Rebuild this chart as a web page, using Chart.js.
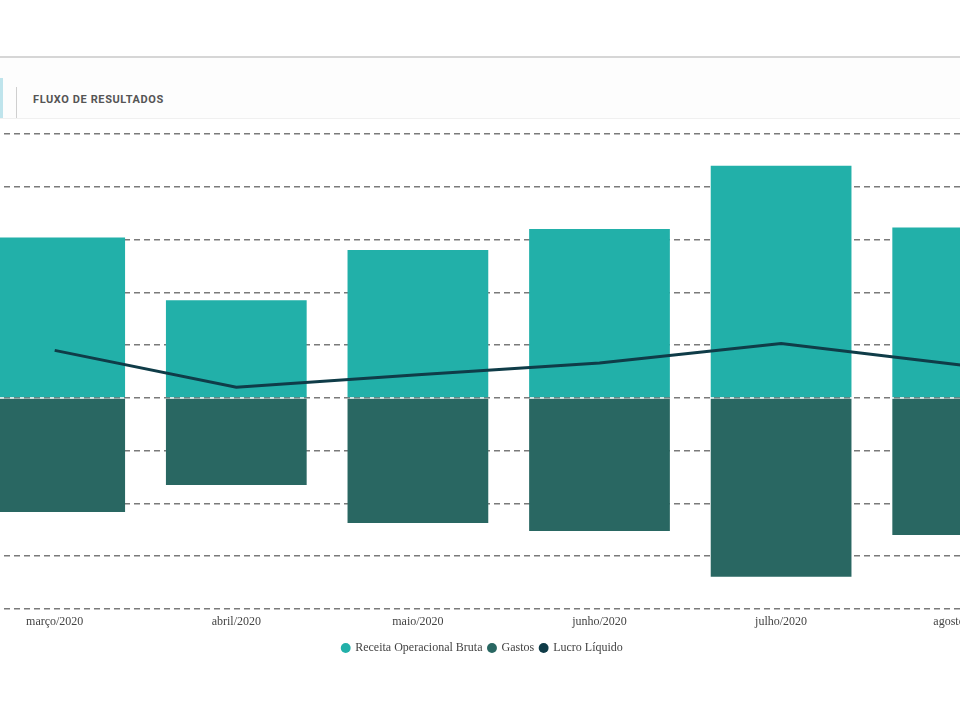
<!DOCTYPE html>
<html>
<head>
<meta charset="utf-8">
<script src="https://cdn.jsdelivr.net/npm/chart.js@4/dist/chart.umd.min.js"></script>
<style>
  html, body { margin: 0; padding: 0; background: #fff; }
  #page { position: relative; width: 960px; height: 720px; overflow: hidden; background: #fff; }
  #topline { position: absolute; left: 0; top: 56px; width: 960px; height: 2px; background: #d6d6d6; }
  #header { position: absolute; left: 0; top: 58px; width: 960px; height: 60px; background: #fdfdfd; border-bottom: 1px solid #f0f0f0; }
  #tab { position: absolute; left: 0; top: 20px; width: 3px; height: 40px; background: #bfe4ec; }
  #sep { position: absolute; left: 16px; top: 29px; width: 1px; height: 31px; background: #cfcfcf; }
  #title { position: absolute; left: 33px; top: 35px; font-family: Roboto, sans-serif; font-weight: bold; font-size: 11px; letter-spacing: 0.6px; color: #555; }
  #wrap { position: absolute; left: -100px; top: 124px; width: 1160px; height: 596px; }
</style>
</head>
<body>
<div id="page">
  <div id="topline"></div>
  <div id="header">
    <div id="tab"></div>
    <div id="sep"></div>
    <div id="title">FLUXO DE RESULTADOS</div>
  </div>
  <div id="wrap"><canvas id="fluxo_chart"></canvas></div>
</div>
<script>
// valores (R$)
var meses = ['março/2020', 'abril/2020', 'maio/2020', 'junho/2020', 'julho/2020', 'agosto/2020'];
var receita = [30400, 18500, 28000, 32000, 44000, 32300];
var gastos = [-21600, -16500, -23700, -25200, -33900, -26000];
var lucro = [9000, 2000, 4400, 6600, 10300, 6200];

var init_chart = function() {
  var ctx = document.getElementById('fluxo_chart').getContext('2d');

  var chart_data = {
    labels: meses,
    datasets: [
      {
        type: 'bar',
        label: 'Receita Operacional Bruta',
        backgroundColor: '#22b0a9',
        borderWidth: 0,
        order: 2,
        data: receita
      },
      {
        type: 'bar',
        label: 'Gastos',
        backgroundColor: '#296762',
        borderWidth: 0,
        order: 2,
        data: gastos
      },
      {
        type: 'line',
        label: 'Lucro Líquido',
        borderColor: '#0f3c48',
        backgroundColor: '#0f3c48',
        borderWidth: 3,
        pointRadius: 0,
        tension: 0,
        order: 1,
        data: lucro
      }
    ]
  };

  var chart_options = {
    responsive: true,
    maintainAspectRatio: false,
    animation: false,
    layout: {
      padding: { left: 11.5, right: 6.5, top: 10, bottom: 56 }
    },
    datasets: {
      bar: { categoryPercentage: 1, barPercentage: 0.775 }
    },
    scales: {
      x: {
        stacked: true,
        grid: { display: false, drawTicks: false },
        border: { display: false },
        ticks: {
          padding: 6,
          color: '#444',
          font: { family: '"Liberation Serif", "Times New Roman", serif', size: 12 }
        },
        afterFit: function(axis) { axis.height += 0.6; }
      },
      y: {
        stacked: true,
        min: -40000,
        max: 50000,
        ticks: { display: false, stepSize: 10000 },
        grid: { color: '#7a7a7a', lineWidth: 1.5, drawTicks: false },
        border: { display: false, dash: [6, 4] },
        afterFit: function(axis) { axis.width = 52.4; }
      }
    },
    plugins: {
      tooltip: { enabled: false },
      legend: {
        position: 'bottom',
        labels: {
          usePointStyle: true,
          pointStyle: 'circle',
          boxWidth: 7,
          boxHeight: 7,
          padding: 6,
          color: '#444',
          font: { family: '"Liberation Serif", "Times New Roman", serif', size: 12 },
          sort: function(a, b) { return a.datasetIndex - b.datasetIndex; },
          generateLabels: function(chart) {
            var items = Chart.defaults.plugins.legend.labels.generateLabels(chart);
            for (var i = 0; i < items.length; i++) {
              items[i].lineWidth = 0;
            }
            return items;
          }
        }
      }
    }
  };

  new Chart(ctx, { data: chart_data, options: chart_options });
};

init_chart();
</script>
</body>
</html>
